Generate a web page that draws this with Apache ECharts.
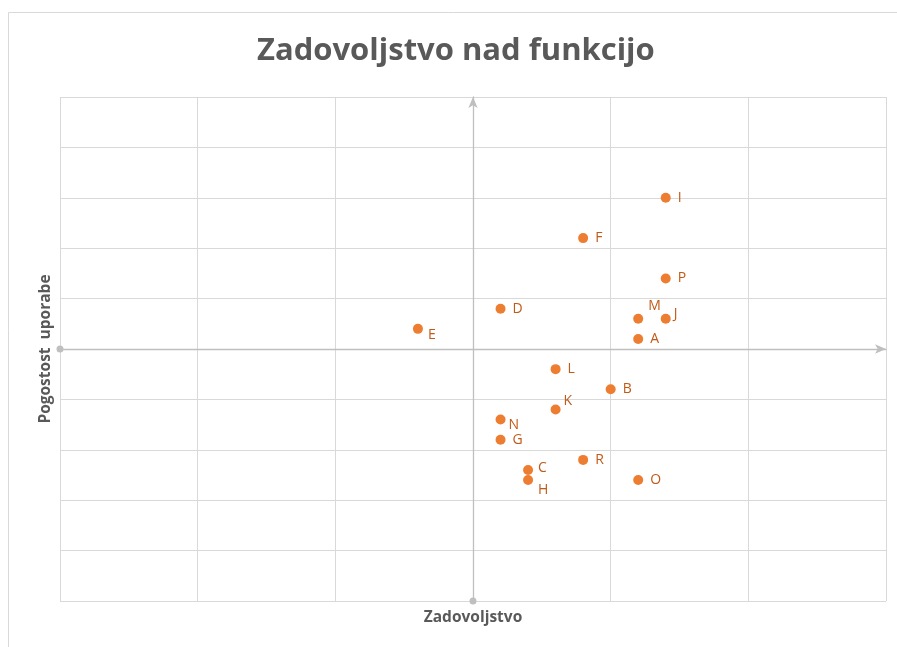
<!DOCTYPE html>
<html>
<head>
<meta charset="utf-8">
<script src="https://cdn.jsdelivr.net/npm/echarts@6/dist/echarts.min.js"></script>
<style>
  html, body { margin: 0; padding: 0; background: #fff; }
  #chart { width: 897px; height: 647px; }
</style>
</head>
<body>
<div id="chart"></div>
<script>
// oznake točk in vrednosti (zadovoljstvo, pogostost uporabe)
const oznake = ["I", "F", "P", "D", "M", "J", "E", "A", "L", "B", "K", "N", "G", "R", "C", "H", "O"];
const zadovoljstvo = [1.4, 0.8, 1.4, 0.2, 1.2, 1.4, -0.4, 1.2, 0.6, 1.0, 0.6, 0.2, 0.2, 0.8, 0.4, 0.4, 1.2];
const pogostost = [3.0, 2.2, 1.4, 0.8, 0.6, 0.6, 0.4, 0.2, -0.4, -0.8, -1.2, -1.4, -1.8, -2.2, -2.4, -2.6, -2.6];

// odmiki oznak (nekatere so premaknjene kot v izvirniku)
const odmiki = {
  M: [-2, -13], J: [-4, -5], E: [-2, 6], K: [-4, -8], N: [-4, 5], C: [-2, -2], H: [-2, 10]
};

const chart = echarts.init(document.getElementById("chart"));

const podatki = oznake.map((o, i) => {
  const off = odmiki[o] || [0, 0];
  return {
    name: o,
    value: [zadovoljstvo[i], pogostost[i]],
    label: { offset: off }
  };
});

const osLinija = {
  show: true,
  onZero: true,
  symbol: ["circle", "arrow"],
  symbolSize: [7, 11],
  lineStyle: { color: "#bfbfbf", width: 1.3 }
};

const naslovOsi = { fontFamily: "Open Sans", fontWeight: "bold", fontSize: 15.5, fill: "#595959" };

chart.setOption({
  animation: false,
  graphic: [
    {
      type: "rect",
      left: 6, top: 10,
      shape: { width: 900, height: 650 },
      style: { fill: "none", stroke: "#d9d9d9", lineWidth: 1 }
    },
    {
      type: "text",
      x: 473, y: 618,
      style: Object.assign({ text: "Zadovoljstvo", align: "center", verticalAlign: "middle" }, naslovOsi)
    },
    {
      type: "text",
      x: 46, y: 349,
      rotation: Math.PI / 2,
      style: Object.assign({ text: "Pogostost  uporabe", align: "center", verticalAlign: "middle" }, naslovOsi)
    }
  ],
  title: {
    text: "Zadovoljstvo nad funkcijo",
    left: 252,
    top: 31,
    textStyle: { fontFamily: "Open Sans", fontWeight: "bold", fontSize: 31, color: "#595959" }
  },
  grid: { left: 60, top: 97, width: 826, height: 504, outerBoundsMode: "none", containLabel: false },
  xAxis: {
    type: "value",
    min: -3, max: 3, interval: 1,
    axisLine: osLinija,
    axisTick: { show: false },
    axisLabel: { show: false },
    splitLine: { show: true, lineStyle: { color: "#d9d9d9", width: 1 } }
  },
  yAxis: {
    type: "value",
    min: -5, max: 5, interval: 1,
    axisLine: osLinija,
    axisTick: { show: false },
    axisLabel: { show: false },
    splitLine: { show: true, lineStyle: { color: "#d9d9d9", width: 1 } }
  },
  series: [{
    type: "scatter",
    symbolSize: 10,
    itemStyle: { color: "#ED7D31", opacity: 1 },
    label: {
      show: true,
      position: "right",
      distance: 7,
      formatter: (p) => p.name,
      fontFamily: "Open Sans",
      fontSize: 14,
      color: "#C05A18"
    },
    data: podatki
  }]
});
</script>
</body>
</html>
